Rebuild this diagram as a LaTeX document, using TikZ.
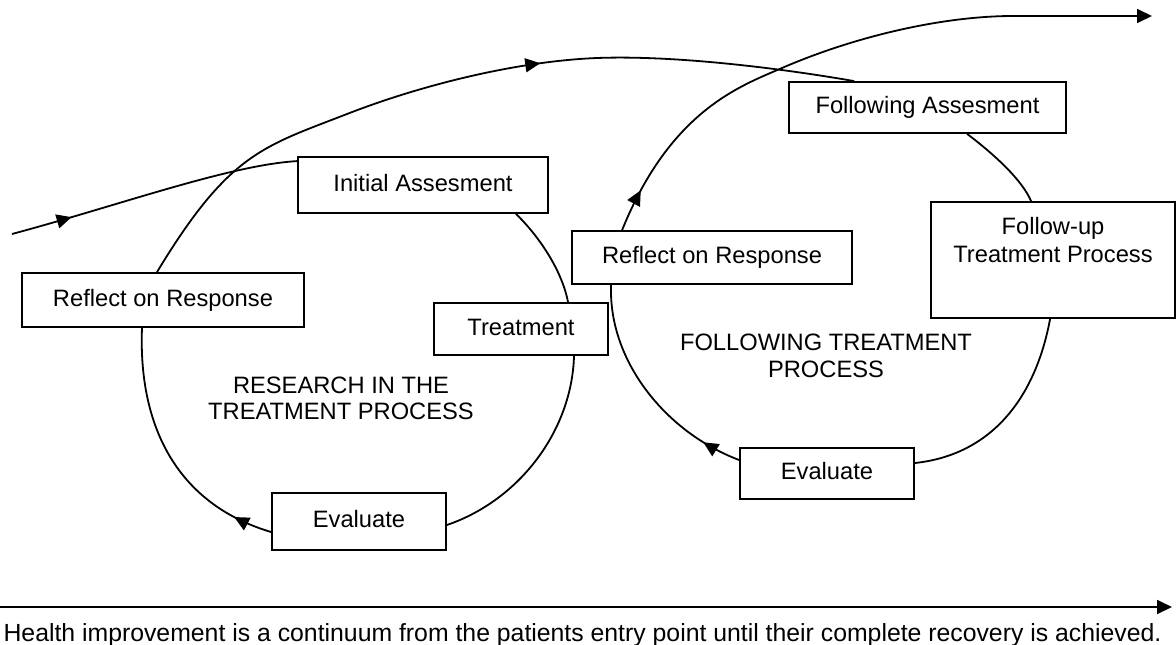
\documentclass[tikz,border=0pt]{standalone}
\usepackage{fontspec}
\setmainfont{Liberation Sans}
\usetikzlibrary{arrows.meta,decorations.markings,calc}
\newcommand{\fsz}{\fontsize{23.7pt}{28pt}\selectfont}
\tikzset{
  box/.style={draw, line width=1.8pt, inner sep=0pt, text height=18pt, text depth=6pt, font=\fsz},
  conn/.style={line width=1.8pt},
  tipend/.style={-{Triangle[length=15pt,width=14pt]}},
  midarrow/.style={postaction={decorate}, decoration={markings, mark=at position #1 with {\arrow{Triangle[length=15pt,width=14pt]}}}},
  lbl/.style={align=center, inner sep=0pt},
}
\begin{document}
\begin{tikzpicture}[x=1pt,y=-1pt]
\useasboundingbox (0,0) rectangle (1176,645);
% boxes
\node[box, minimum width=250pt, minimum height=56pt] (ia) at (423,185) {Initial Assesment};
\node[box, minimum width=282pt, minimum height=54pt] (rl) at (163,300) {Reflect on Response};
\node[box, minimum width=174pt, minimum height=52pt] (tr) at (521,329) {Treatment};
\node[box, minimum width=174pt, minimum height=57pt] (el) at (359,521.5) {Evaluate};
\node[box, minimum width=280pt, minimum height=53pt] (rr) at (712,257.5) {Reflect on Response};
\node[box, minimum width=277pt, minimum height=51pt] (fa) at (927.5,107.5) {Following Assesment};
\node[box, minimum width=244pt, align=center, inner ysep=16pt, text height=44pt, text depth=40pt] (fu) at (1053,260) {Follow-up\\Treatment Process};
\node[box, minimum width=174pt, minimum height=51pt] (er) at (827,473.5) {Evaluate};
% labels
\node[lbl, anchor=base, font=\fontsize{23.7pt}{26pt}\selectfont] (t1) at (341,419) {RESEARCH IN THE\\TREATMENT PROCESS};
\node[lbl, anchor=base, font=\fontsize{23.7pt}{27pt}\selectfont] (t2) at (826,377) {FOLLOWING TREATMENT\\PROCESS};
\node[lbl, anchor=base, font=\fontsize{24.8pt}{28pt}\selectfont] (t3) at (582.5,641) {Health improvement is a continuum from the patients entry point until their complete recovery is achieved.};
% free ends
\coordinate (inS) at (12,234);
\coordinate (topE) at (1152,16);
\coordinate (bS) at (0,607);
\coordinate (bE) at (1172,607);
% connectors
\draw[conn, midarrow=62pt] (inS) .. controls (120,205) and (230,165) .. ($(ia.north west)+(0,5)$);
\draw[conn] ($(ia.south east)+(-33,0)$) .. controls (538,235) and (562,270) .. ($(tr.north)+(47,0)$);
\draw[conn] ($(tr.south)+(53,0)$) .. controls (572,430) and (520,500) .. ($(el.east)+(0,3.5)$);
\draw[conn, midarrow=40pt] ($(el.west)+(0,10.5)$) .. controls (180,505) and (138,430) .. ($(rl.south)+(-21,0)$);
\draw[conn, midarrow=455pt] ($(rl.north)+(-6,0)$) .. controls (229,153) and (263,146.7) .. (347,114)
   .. controls (421.4,85) and (517,61.2) .. (597,58)
   .. controls (677,55) and (785,69) .. ($(fa.north west)+(66,0)$);
\draw[conn] ($(fa.south west)+(179,0)$) .. controls (995,155) and (1022,180) .. ($(fu.north west)+(101,0)$);
\draw[conn] ($(fu.south west)+(120,0)$) .. controls (1035,400) and (990,455) .. ($(er.east)+(0,-10.5)$);
\draw[conn, midarrow=40pt] ($(er.west)+(0,-13.5)$) .. controls (665,432) and (608,360) .. ($(rr.south west)+(40,0)$);
\draw[conn, tipend, midarrow=44pt] ($(rr.north west)+(51,0)$) .. controls (670.7,110.1) and (740.7,85.9) .. (782,68)
   .. controls (855.4,36.2) and (943,16) .. (1013,16) -- (topE);
\draw[conn, tipend] (bS) -- (bE);
\end{tikzpicture}
\end{document}
